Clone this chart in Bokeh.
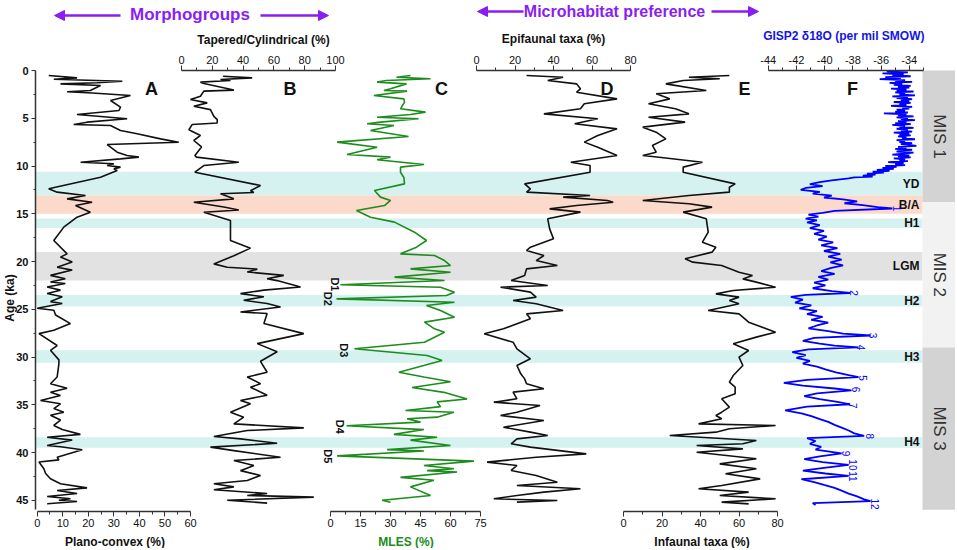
import math
from bokeh.plotting import figure
from bokeh.models import (Range1d, LinearAxis, FixedTicker, ColumnDataSource,
                          Label, Arrow, NormalHead)
from bokeh.core.properties import value
from bokeh.embed import file_html
from bokeh.resources import INLINE

# ---------------- data (age in ka, value) ----------------
band_labels = ["YD", "B/A", "H1", "LGM", "H2", "H3", "H4"]
band_start = [10.6, 13.1, 15.5, 19.0, 23.5, 29.3, 38.4]
band_end = [13.1, 15.0, 16.5, 22.0, 24.7, 30.6, 39.5]
band_kind = ["stadial", "interstadial", "stadial", "lgm", "stadial", "stadial", "stadial"]

mis_labels = ["MIS 1", "MIS 2", "MIS 3"]
mis_start = [0.0, 13.8, 29.0]
mis_end = [13.8, 29.0, 46.0]

age_ticks = [0, 5, 10, 15, 20, 25, 30, 35, 40, 45]
age_minor = [2.5, 7.5, 12.5, 17.5, 22.5, 27.5, 32.5, 37.5, 42.5]
a_ticks = [0, 10, 20, 30, 40, 50, 60]
b_ticks = [0, 20, 40, 60, 80, 100]
c_ticks = [0, 15, 30, 45, 60, 75]
d_ticks = [0, 20, 40, 60, 80]
e_ticks = [0, 20, 40, 60, 80]
f_ticks = [-44, -42, -40, -38, -36, -34]
f_tick_labels = ["-44", "-42", "-40", "-38", "-36", "-34"]

# A: Plano-convex (%)
a_series = [(0.52,4.5),(0.77,15.6),(0.91,6.5),(1.12,33.3),(1.29,23.5),(1.40,9.1),(1.57,24.8),(2.09,20.8),(2.22,11.7),(2.35,21.5),(2.62,36.5),(3.14,28.7),(3.84,32.6),(4.19,32.0),(4.61,15.6),(5.06,35.2),(5.41,19.5),(5.66,14.3),(5.76,28.7),(6.28,32.6),(6.63,39.1),(7.16,48.3),(7.51,55.4),(7.75,27.4),(8.55,31.3),(8.90,35.2),(9.07,39.8),(9.25,32.6),(9.60,17.0),(9.77,30.0),(9.95,27.4),(10.12,32.6),(10.30,30.0),(10.47,31.3),(11.17,24.8),(12.39,4.5),(12.74,7.8),(13.09,18.9),(13.44,11.7),(13.79,21.5),(14.14,15.0),(14.84,20.8),(15.36,15.6),(16.4,10.4),(17.8,6.5),(19.2,11.7),(19.54,9.1),(20.06,13.7),(20.6,7.8),(20.9,13.7),(21.45,5.2),(21.8,11.0),(22.15,5.2),(22.3,11.0),(22.67,3.9),(23.0,9.1),(23.36,3.9),(23.7,9.8),(24.2,5.2),(24.4,9.8),(24.9,0.0),(25.1,6.5),(25.6,7.2),(26.5,13.0),(27.2,6.5),(27.55,0.7),(28.8,7.8),(29.3,5.2),(30.3,8.5),(30.7,8.5),(32.1,7.8),(32.8,5.2),(33.27,11.7),(33.7,5.2),(34.03,9.1),(34.55,1.3),(34.9,9.1),(35.4,6.5),(35.78,10.4),(36.1,5.2),(36.6,9.1),(37.17,6.5),(37.6,9.8),(38.1,16.9),(38.4,3.9),(38.7,13.7),(39.27,3.9),(39.4,9.1),(39.72,17.6),(40.5,7.8),(40.77,8.5),(41.0,0.7),(41.7,2.6),(42.2,3.3),(42.75,5.2),(43.28,9.1),(43.7,19.5),(43.98,7.8),(44.3,15.6),(44.6,3.9),(44.85,13.0),(45.0,8.5),(45.13,15.6),(45.37,3.9)]

# B: Tapered/Cylindrical (%)
b_series = [(0.6,27),(0.77,45.9),(0.94,25.3),(1.05,31.8),(1.22,12.3),(1.36,14.5),(2.05,34.0),(2.16,14.5),(2.69,12.3),(3.04,5.8),(3.39,16.7),(3.74,8.0),(4.1,18.8),(4.8,21.0),(5.15,23.2),(5.5,23.2),(5.66,6.9),(6.2,4.8),(6.8,12.3),(7.33,8.0),(8.0,13.0),(8.9,8.7),(9.07,9.7),(9.6,37.2),(9.95,14.5),(10.65,8.7),(12.04,51.3),(12.6,44.8),(12.77,47.0),(12.9,25.3),(13.44,34.0),(13.79,8.0),(14.3,27.5),(14.6,37.2),(14.84,14.5),(15.7,31.8),(17.8,31.8),(18.6,44.8),(19.4,34.0),(20.25,21.0),(20.6,29.7),(20.8,49.2),(21.1,42.7),(21.45,66.4),(21.8,55.6),(22.0,62.1),(22.67,77.3),(23.0,53.5),(23.36,38.3),(23.7,53.5),(24.06,40.4),(24.4,55.6),(24.76,64.3),(25.28,38.3),(25.45,55.6),(26.5,53.5),(27.55,79.4),(28.6,49.2),(29.45,62.1),(30.45,51.3),(31.6,55.6),(32.1,42.7),(32.8,51.3),(33.16,44.8),(34.0,55.6),(34.55,38.3),(34.9,44.8),(35.78,31.8),(36.3,40.4),(37.0,34.0),(37.42,79.4),(37.7,42.7),(38.33,21.0),(38.57,38.3),(39.03,62.1),(39.44,18.8),(39.8,34.0),(40.5,64.3),(40.84,34.0),(41.36,47.0),(41.9,38.3),(42.4,51.3),(42.93,42.7),(43.28,21.0),(43.6,34.0),(43.9,21.0),(44.3,55.6),(44.5,42.7),(44.67,85.9),(45.0,29.7),(45.3,55.6)]

# C: MLES (%)
c_series = [(0.52,40),(0.7,33),(0.87,50),(1.05,28),(1.22,23.3),(1.4,38),(1.92,30),(2.09,26.7),(2.16,38.3),(2.62,21.7),(2.97,36.7),(3.32,37),(4.01,35),(4.36,47.5),(4.61,40),(4.89,23.3),(5.06,44),(5.41,25),(5.58,18.3),(5.76,31.7),(6.28,20),(6.91,39),(7.5,3.3),(8.03,23.3),(8.8,8.3),(9.07,30),(9.35,23.3),(9.84,46.7),(10.12,35),(10.65,35),(11.2,36.7),(11.87,37),(12.57,22),(13.26,25),(13.61,30),(14.14,27),(14.66,13),(15.36,20),(15.88,32),(16.93,42),(17.8,48),(18.5,43),(19.2,35),(19.37,52),(19.9,57),(20.42,60),(20.77,40),(21.12,60),(21.64,32),(21.99,57),(22.44,5),(22.69,55),(23.21,62),(23.56,58),(23.91,3),(24.26,62),(24.6,48),(25.13,55),(25.83,62),(26.35,47),(27.05,52),(27.4,57),(28.45,47),(29.14,12),(29.84,48.3),(30.37,55.8),(31.6,34.2),(32.1,46.7),(32.6,60),(33.2,40.8),(33.7,56.7),(34.4,68.3),(34.7,53.3),(35.2,55),(35.6,37.5),(35.78,61.7),(36.3,53.3),(36.47,38.3),(36.82,45),(37.2,8),(37.6,46.7),(38.1,31.7),(38.4,53.3),(38.7,40),(39.27,60),(39.7,28.3),(39.85,46.7),(40.35,3.3),(40.9,71.7),(41.36,46.7),(41.7,61.7),(41.9,48.3),(42.05,63.3),(42.6,35),(42.9,51.7),(43.6,40),(44.5,50),(45.0,25.8),(45.2,30)]

# D: Epifaunal taxa (%)
d_series = [(0.52,26),(0.70,45),(1.05,37),(1.40,52),(1.92,54),(2.27,52),(2.97,73),(3.49,56),(4.01,54),(4.54,35),(5.06,63),(5.58,51),(6.11,73),(6.81,63),(7.5,56),(8.03,63),(8.9,73),(9.6,49),(9.95,59),(10.65,59),(11.87,25),(12.39,28),(12.74,26),(13.09,59),(13.26,45),(13.61,68),(13.79,71),(14.14,52),(14.49,38),(14.83,54),(15.53,37),(16.58,38),(17.63,40),(18.5,28),(18.85,26),(19.37,35),(19.9,31),(20.42,42),(20.77,26),(21.47,25),(21.99,18),(22.51,37),(22.69,12.5),(23.21,28),(23.73,31),(24.08,19),(24.43,31),(25.13,45),(25.48,26),(26.0,28),(27.05,14),(27.57,4),(28.45,19),(29.14,21),(30.19,28),(30.89,21),(31.76,23),(32.29,25),(32.81,26),(33.33,35),(33.68,19),(34.38,21),(34.73,9),(35.08,33),(35.78,21),(36.13,12.5),(36.65,35),(37.35,14),(37.87,28),(38.22,37),(38.57,21),(39.09,18),(39.44,28),(40.14,57),(40.49,31),(41.01,5.5),(41.36,21),(41.88,18),(42.41,31),(43.11,42),(43.46,21),(43.8,54),(44.15,35),(44.5,21),(44.85,9),(45.03,42),(45.2,21)]

# E: Infaunal taxa (%)
e_series = [(0.52,55),(0.70,34),(0.87,50),(1.05,31),(1.40,22),(2.09,43),(2.44,17),(2.97,24),(3.49,13),(4.01,27),(4.54,34),(4.89,13),(5.41,32),(5.93,10),(6.46,17),(7.16,22),(7.85,15),(8.55,17),(8.9,10),(9.08,18.5),(9.6,41),(10.12,31),(10.65,31),(11.87,58),(12.22,55),(12.74,55),(13.09,34),(13.61,10),(13.96,34),(14.31,46),(14.83,31),(15.53,43),(16.93,44),(17.98,41),(18.5,48),(19.02,46),(19.72,32),(20.07,36),(20.42,51),(21.12,60),(21.47,67),(21.82,62),(22.16,69),(22.69,79),(23.04,57),(23.39,48),(23.73,60),(24.08,55),(24.43,60),(25.13,44),(25.48,60),(26.35,65),(27.4,79),(27.92,69),(28.62,57),(29.32,65),(30.02,60),(30.89,62),(31.94,57),(32.64,55),(33.16,58),(33.86,58),(34.38,51),(35.25,55),(35.78,51),(36.13,48),(36.47,51),(37.0,39),(37.17,79),(37.52,55),(37.87,48),(38.22,24),(38.74,69),(39.09,62),(39.27,38),(39.62,62),(39.97,38),(40.66,69),(41.19,50),(41.71,69),(42.23,53),(42.76,71),(43.46,51),(43.8,39),(44.15,65),(44.5,50),(44.85,79),(45.2,51),(45.38,65)]

# F: GISP2 d18O (per mil SMOW)
f_series = [(0.1,-35.6),(0.2,-34.1),(0.3,-35.9),(0.4,-34.4),(0.5,-35.2),(0.6,-33.9),(0.7,-35.7),(0.8,-34.6),(0.9,-36.1),(1.0,-34.3),(1.1,-35.0),(1.2,-33.8),(1.3,-35.4),(1.4,-34.5),(1.5,-35.1),(1.6,-33.9),(1.7,-34.8),(1.8,-34.0),(1.9,-35.3),(2.0,-34.2),(2.1,-34.9),(2.2,-33.7),(2.3,-35.0),(2.4,-34.3),(2.5,-34.7),(2.6,-33.6),(2.7,-35.2),(2.8,-34.1),(2.9,-34.9),(3.0,-33.8),(3.1,-34.6),(3.2,-34.0),(3.3,-35.1),(3.4,-33.9),(3.5,-34.7),(3.6,-34.2),(3.7,-35.3),(3.8,-33.8),(3.9,-34.5),(4.0,-34.0),(4.1,-34.9),(4.2,-34.3),(4.3,-35.0),(4.4,-34.1),(4.5,-35.8),(4.6,-34.2),(4.7,-34.8),(4.8,-33.7),(4.9,-34.9),(5.0,-34.1),(5.1,-34.6),(5.2,-33.6),(5.3,-34.8),(5.4,-34.2),(5.5,-35.0),(5.6,-33.9),(5.7,-35.2),(5.8,-34.3),(5.9,-34.7),(6.0,-33.7),(6.1,-34.9),(6.2,-34.1),(6.3,-34.6),(6.4,-33.8),(6.5,-35.1),(6.6,-34.0),(6.7,-34.7),(6.8,-33.9),(6.9,-34.8),(7.0,-34.2),(7.1,-34.5),(7.2,-33.6),(7.3,-34.9),(7.4,-34.3),(7.5,-34.7),(7.6,-33.8),(7.7,-34.6),(7.8,-34.0),(7.9,-33.5),(8.0,-34.8),(8.1,-34.2),(8.2,-35.0),(8.3,-33.8),(8.4,-34.6),(8.5,-34.9),(8.6,-33.7),(8.7,-34.4),(8.8,-35.2),(8.9,-34.0),(9.0,-34.8),(9.1,-33.9),(9.2,-35.1),(9.3,-34.3),(9.4,-34.7),(9.5,-34.1),(9.6,-35.5),(9.7,-34.4),(9.8,-35.0),(9.9,-34.3),(10.0,-35.7),(10.1,-34.9),(10.2,-35.9),(10.3,-35.1),(10.4,-36.3),(10.5,-35.4),(10.6,-36.6),(10.7,-35.8),(10.8,-37.0),(10.9,-36.4),(11.0,-37.3),(11.1,-36.6),(11.2,-37.9),(11.3,-38.3),(11.5,-39.5),(11.7,-40.35),(11.9,-41.05),(12.1,-40.15),(12.3,-41.35),(12.5,-41.7),(12.7,-40.35),(12.9,-40.85),(13.1,-39.5),(13.3,-40.05),(13.5,-38.7),(13.7,-37.7),(13.9,-38.6),(14.1,-37.3),(14.3,-36.25),(14.45,-35.2),(14.7,-39.3),(14.9,-40.15),(15.1,-41.15),(15.3,-40.45),(15.5,-41.35),(15.7,-40.55),(15.9,-41.25),(16.2,-40.35),(16.5,-41.05),(16.8,-40.05),(17.1,-40.75),(17.4,-39.85),(17.7,-40.45),(18.0,-39.4),(18.3,-40.25),(18.6,-39.1),(18.9,-40.05),(19.2,-38.9),(19.5,-39.75),(19.8,-38.8),(20.1,-39.6),(20.4,-38.7),(20.7,-39.6),(21.0,-40.25),(21.3,-39.3),(21.6,-40.45),(21.9,-39.75),(22.2,-40.75),(22.5,-39.95),(22.8,-40.85),(23.1,-39.5),(23.3,-38.2),(23.5,-41.35),(23.7,-42.4),(24.0,-41.55),(24.3,-42.1),(24.6,-40.95),(24.9,-41.8),(25.2,-40.55),(25.5,-41.25),(25.8,-40.15),(26.1,-40.95),(26.4,-39.75),(26.7,-40.55),(27.0,-41.15),(27.3,-39.75),(27.55,-38.7),(27.75,-36.75),(28.0,-40.75),(28.3,-41.55),(28.6,-40.35),(28.8,-39.3),(29.0,-37.6),(29.2,-41.15),(29.5,-42.3),(29.8,-41.35),(30.1,-42.0),(30.4,-41.05),(30.7,-41.55),(31.0,-40.55),(31.3,-39.95),(31.6,-39.2),(31.9,-38.3),(32.1,-37.6),(32.4,-41.25),(32.7,-42.9),(33.0,-41.55),(33.3,-39.3),(33.5,-38.1),(33.8,-40.55),(34.1,-41.45),(34.4,-40.35),(34.7,-39.1),(34.95,-38.2),(35.2,-41.25),(35.6,-42.8),(35.9,-41.65),(36.2,-40.95),(36.5,-40.35),(36.8,-39.75),(37.1,-39.3),(37.4,-38.8),(37.7,-38.3),(38.0,-37.9),(38.25,-37.2),(38.5,-41.25),(38.8,-40.65),(39.1,-41.05),(39.4,-40.25),(39.7,-40.65),(40.1,-38.8),(40.4,-40.35),(40.7,-41.45),(41.0,-40.15),(41.3,-38.3),(41.6,-40.05),(41.9,-41.55),(42.2,-39.95),(42.45,-38.3),(42.8,-41.65),(43.1,-40.75),(43.4,-40.05),(43.7,-39.3),(44.0,-38.8),(44.3,-38.3),(44.6,-37.7),(44.9,-37.2),(45.1,-36.75),(45.3,-40.85),(45.5,-40.65)]

# dissolution events on MLES and GISP2 interstadial numbers
d_event_labels = ["D1", "D2", "D3", "D4", "D5"]
d_event_age = [22.4, 23.9, 29.3, 37.3, 40.4]
d_event_x = [2.0, -1.5, 6.5, 4.5, -1.5]
is_labels = ["1", "2", "3", "4", "5", "6", "7", "8", "9", "10", "11", "12"]
is_age = [14.45, 23.3, 27.75, 29.0, 32.2, 33.4, 35.1, 38.3, 40.1, 41.3, 42.5, 45.4]
is_x = [-34.9, -37.9, -36.6, -37.45, -37.3, -37.8, -38.0, -36.8, -38.5, -38.0, -38.0, -36.45]

# ---------------- layout / style ----------------
FONT = "Liberation Sans"
PURPLE = "#8a1ef2"
GREEN = "#1c8c1c"
BLUE = "#0000ff"
BLUE_TXT = "#1414e6"
INK = "#111111"
AXIS = "#333333"
BAND_COLORS = {"stadial": "#d5f2f0", "interstadial": "#fcdacb", "lgm": "#e2e2e2"}
MIS_COLORS = ["#d3d3d3", "#f2f2f2", "#d3d3d3"]

W, H = 955, 548            # canvas = frame (page pixels)
PX_PER_KA = 9.55
Y0 = 70                    # page y of age 0
AGE_BOTTOM = (511 - Y0) / PX_PER_KA
YAXIS_X = 35
BAND_RIGHT = 922

# pixel position of each panel's axis ends and the values there
panel_px = {"A": (36.7, 190.0, 0, 60), "B": (181.0, 335.0, 0, 100),
            "C": (330.0, 480.0, 0, 75), "D": (476.0, 630.0, 0, 80),
            "E": (623.0, 777.0, 0, 80), "F": (767.8, 922.9, -44, -33)}

p = figure(frame_width=W, frame_height=H,
           x_range=Range1d(0, W),
           y_range=Range1d((H - Y0) / PX_PER_KA, -Y0 / PX_PER_KA),
           x_axis_location=None, y_axis_location=None,
           output_backend="svg", toolbar_location=None,
           min_border=0, min_border_left=0, min_border_right=0,
           min_border_top=0, min_border_bottom=0)
p.outline_line_color = None
p.grid.visible = False
p.background_fill_color = "white"
p.border_fill_color = "white"

ranges = {}
for k, (p0, p1, v0, v1) in panel_px.items():
    s = (v1 - v0) / (p1 - p0)
    ranges[k] = Range1d(v0 + (0 - p0) * s, v0 + (W - p0) * s)
p.extra_x_ranges = ranges
p.extra_y_ranges = {"py": Range1d(H, 0)}


def style_axis(ax, size="11px", bold=False):
    ax.major_tick_in = 0
    ax.minor_tick_in = 0
    ax.axis_line_width = 1.3
    ax.axis_line_color = AXIS
    ax.major_tick_line_color = AXIS
    ax.minor_tick_line_color = AXIS
    ax.major_label_text_font = FONT
    ax.major_label_text_font_size = size
    ax.major_label_text_color = INK
    if bold:
        ax.major_label_text_font_style = "bold"


# shaded climate bands
band_src = ColumnDataSource(dict(
    top=band_start, bottom=band_end,
    mid=[(s + e) / 2 for s, e in zip(band_start, band_end)],
    color=[BAND_COLORS[k] for k in band_kind], label=band_labels))
p.quad(left=YAXIS_X, right=BAND_RIGHT, top="top", bottom="bottom", fill_color="color",
       line_color=None, source=band_src)

# MIS boxes
mis_src = ColumnDataSource(dict(top=mis_start, bottom=mis_end,
                                mid=[(s + e) / 2 for s, e in zip(mis_start, mis_end)],
                                color=MIS_COLORS, label=mis_labels))
p.quad(left=BAND_RIGHT, right=W, top="top", bottom="bottom", fill_color="color",
       line_color=None, source=mis_src)
p.text(x=(BAND_RIGHT + W) / 2, y="mid", text="label", source=mis_src, angle=-math.pi / 2,
       text_align="center", text_baseline="middle", text_font=value(FONT),
       text_font_size="17px", text_color="#333333")

# y axis (age)
ya = LinearAxis(fixed_location=YAXIS_X, bounds=(0, 46),
                ticker=FixedTicker(ticks=age_ticks, minor_ticks=age_minor))
style_axis(ya, "11px", bold=True)
ya.major_tick_out = 4
ya.minor_tick_out = 2
ya.major_label_standoff = 3
ya.axis_line_width = 1.5
p.add_layout(ya, "left")


def add_axis(name, side, ticks, minor, bounds, overrides=None):
    ax = LinearAxis(x_range_name=name,
                    fixed_location=(AGE_BOTTOM if side == "below" else 0),
                    bounds=bounds, ticker=FixedTicker(ticks=ticks, minor_ticks=minor))
    style_axis(ax)
    ax.major_tick_out = 5
    ax.minor_tick_out = 3
    ax.major_label_standoff = 2
    if overrides:
        ax.major_label_overrides = overrides
    p.add_layout(ax, side)


add_axis("A", "below", a_ticks, [5, 15, 25, 35, 45, 55], (0, 60))
add_axis("B", "above", b_ticks, [10, 30, 50, 70, 90], (0, 100))
add_axis("C", "below", c_ticks, [7.5, 22.5, 37.5, 52.5, 67.5], (0, 75))
add_axis("D", "above", d_ticks, [10, 30, 50, 70], (0, 80))
add_axis("E", "below", e_ticks, [10, 30, 50, 70], (0, 80))
add_axis("F", "above", f_ticks, [-43, -41, -39, -37, -35, -33], (-44, -33),
         overrides=dict(zip(f_ticks, f_tick_labels)))

# traces
series = [("A", a_series, INK, 1.6), ("B", b_series, INK, 1.6), ("C", c_series, GREEN, 1.6),
          ("D", d_series, INK, 1.6), ("E", e_series, INK, 1.6), ("F", f_series, BLUE, 1.8)]
for name, ser, col, lw in series:
    p.line(x=[v for _, v in ser], y=[a for a, _ in ser], x_range_name=name,
           line_color=col, line_width=lw)

p.text(x=BAND_RIGHT - 3, y="mid", text="label", source=band_src, text_align="right",
       text_baseline="middle", text_font=value(FONT), text_font_size="12px",
       text_font_style="bold", text_color=INK)

p.text(x=d_event_x, y=d_event_age, text=d_event_labels, x_range_name="C",
       angle=-math.pi / 2, text_align="center", text_baseline="middle",
       text_font=value(FONT), text_font_size="11px", text_font_style="bold",
       text_color=INK)
p.text(x=is_x, y=is_age, text=is_labels, x_range_name="F",
       angle=-math.pi / 2, text_align="center", text_baseline="middle",
       text_font=value(FONT), text_font_size="10px", text_color=BLUE)


# texts placed at page pixel positions
def lab(x, y, text, size, color=INK, style="bold", angle=0.0):
    p.add_layout(Label(x=x, y=y, y_range_name="py", text=text, text_font=FONT,
                       text_font_size=size, text_font_style=style, text_color=color,
                       text_align="center", text_baseline="middle", angle=angle))


for letter, lx in zip("ABCDEF", [151, 289.5, 441, 606.5, 744, 852]):
    lab(lx, 88, letter, "18px")

lab(189.5, 14, "Morphogroups", "17px", PURPLE)
lab(614, 11, "Microhabitat preference", "16px", PURPLE)
lab(263, 39, "Tapered/Cylindrical (%)", "12px")
lab(553, 38, "Epifaunal taxa (%)", "12px")
lab(845, 35, "GISP2 \u03b418O (per mil  SMOW)", "12px", BLUE_TXT)
lab(114.5, 541, "Plano-convex (%)", "12px")
lab(405.5, 541, "MLES (%)", "12px", GREEN)
lab(701.5, 541, "Infaunal taxa (%)", "12px")
lab(9, 297.5, "Age (ka)", "12px", angle=math.pi / 2)

for xs, xe, y in [(120, 54, 15), (260, 328, 15), (523, 477, 11), (711, 758, 11)]:
    p.add_layout(Arrow(end=NormalHead(size=10, fill_color=PURPLE, line_color=PURPLE),
                       x_start=xs, y_start=y, x_end=xe, y_end=y, y_range_name="py",
                       line_color=PURPLE, line_width=2.5))

open("out.html", "w").write(file_html(p, INLINE))
